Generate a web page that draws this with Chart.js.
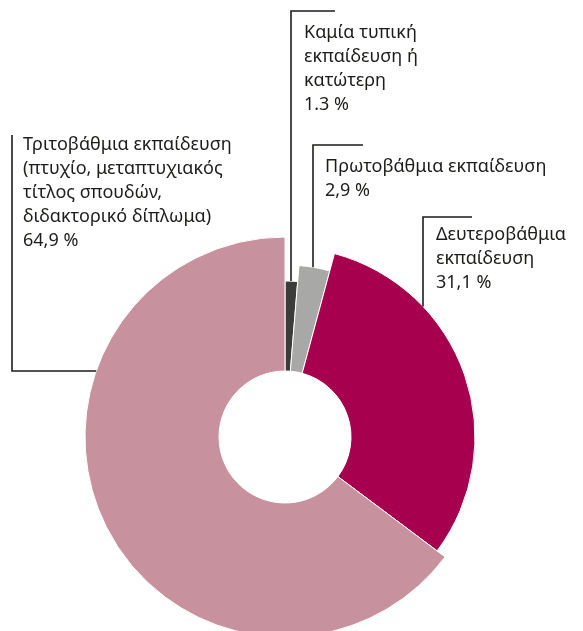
<!DOCTYPE html>
<html>
<head>
<meta charset="utf-8">
<script src="https://cdn.jsdelivr.net/npm/chart.js@4/dist/chart.umd.min.js"></script>
<style>
  html, body { margin: 0; padding: 0; background: #fff; overflow: hidden; }
  #wrap { width: 583px; height: 631px; overflow: hidden; }
</style>
</head>
<body>
<div id="wrap"><canvas id="myChart" width="583" height="640"></canvas></div>
<script>
const categories = [
  ["Καμία τυπική", "εκπαίδευση ή", "κατώτερη"],
  ["Πρωτοβάθμια εκπαίδευση"],
  ["Δευτεροβάθμια", "εκπαίδευση"],
  ["Τριτοβάθμια εκπαίδευση", "(πτυχίο, μεταπτυχιακός", "τίτλος σπουδών,", "διδακτορικό δίπλωμα)"]
];
const values = [1.3, 2.9, 31.1, 64.9];
const valueLabels = ["1.3 %", "2,9 %", "31,1 %", "64,9 %"];

// looks
const colors = ["#3c3c3b", "#a8a8a6", "#a6004e", "#c8919e"];
const radiusScale = [0.78, 0.86, 0.95, 1.0]; // each slice sticks out a different amount
const holeScale = 0.33;

// where the callouts sit (text start, first baseline, leader elbow)
const callouts = [
  { tx: 304, ty: 38, lineX: 291, lineY: 11, lineEnd: 335, dir: "down" },
  { tx: 325, ty: 172, lineX: 313, lineY: 145, lineEnd: 363, dir: "down" },
  { tx: 436, ty: 240, lineX: 423, lineY: 217, lineEnd: 472, dir: "down" },
  { tx: 23, ty: 150, lineX: 12, lineY: 371, lineEnd: 135, dir: "left" }
];
const lineGap = 24;

const sliceRadii = {
  id: 'sliceRadii',
  afterDatasetsUpdate(chart) {
    const area = chart.chartArea;
    const base = Math.min(area.right - area.left, area.bottom - area.top) / 2;
    chart.getDatasetMeta(0).data.forEach((arc, i) => {
      arc.outerRadius = base * radiusScale[i];
      arc.innerRadius = base * holeScale;
    });
  }
};

const callout = {
  id: 'callout',
  afterDatasetsDraw(chart) {
    const ctx = chart.ctx;
    const arcs = chart.getDatasetMeta(0).data;
    ctx.save();
    ctx.strokeStyle = "#1d1d1b";
    ctx.lineWidth = 1.6;
    ctx.fillStyle = "#1d1d1b";
    ctx.font = "18px 'Noto Sans'";
    ctx.textBaseline = "alphabetic";
    callouts.forEach((c, i) => {
      const arc = arcs[i];
      const r = arc.outerRadius;
      ctx.beginPath();
      if (c.dir === "down") {
        const dx = c.lineX - arc.x;
        const endY = arc.y - Math.sqrt(r * r - dx * dx);
        ctx.moveTo(c.lineEnd, c.lineY);
        ctx.lineTo(c.lineX, c.lineY);
        ctx.lineTo(c.lineX, endY);
      } else {
        const dy = c.lineY - arc.y;
        const endX = arc.x - Math.sqrt(r * r - dy * dy);
        ctx.moveTo(c.lineX, c.lineEnd);
        ctx.lineTo(c.lineX, c.lineY);
        ctx.lineTo(endX, c.lineY);
      }
      ctx.stroke();
      const lines = categories[i].concat([valueLabels[i]]);
      lines.forEach((t, k) => ctx.fillText(t, c.tx, c.ty + k * lineGap));
    });
    ctx.restore();
  }
};

const config = {
  type: 'doughnut',
  data: {
    labels: categories.map(l => l.join(' ')),
    datasets: [{
      data: values,
      backgroundColor: colors,
      borderColor: "#ffffff",
      borderWidth: 1
    }]
  },
  options: {
    responsive: false,
    animation: false,
    events: [],
    cutout: '33%',
    layout: { padding: { left: 85, right: 98, top: 237, bottom: 3 } },
    plugins: {
      legend: { display: false },
      tooltip: { enabled: false }
    }
  },
  plugins: [sliceRadii, callout]
};

const ctx = document.getElementById('myChart').getContext('2d');
const myChart = new Chart(ctx, config);
</script>
</body>
</html>
